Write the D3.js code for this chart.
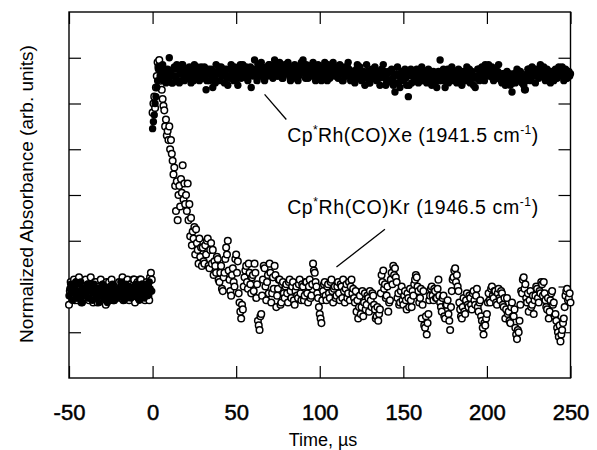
<!DOCTYPE html>
<html>
<head>
<meta charset="utf-8">
<script src="https://cdn.jsdelivr.net/npm/d3@7"></script>
<style>
body { margin: 0; background: #fff; }
svg text { font-family: "Liberation Sans", Arial, sans-serif; fill: #000; }
</style>
</head>
<body>
<div id="absorbance_plot"></div>
<script>
// sampling every 0.5 us; values are absorbance x 100 (arb. units)
var tFirst = -50, tStep = 0.5;
var xTicks = [-50, 0, 50, 100, 150, 200, 250];
var yTicks = [-0.2, 0, 0.2, 0.4, 0.6, 0.8, 1.0];

// Cp*Rh(CO)Kr, 1946.5 cm-1 (open circles), t = -50 .. -0.5
var krPre = [
  -8, -2, 2, -4, -5, 1, 3, -6, -1, 2, -6, -3, 4, 0, -3, -7, 1, -1, -5, 2,
  3, -4, -2, 1, -6, -3, 4, -1, 0, -7, -4, 2, 2, -5, -7, 0, -1, -3, 3, -6,
  -5, 0, 1, -3, -8, 2, -2, -5, 2, -1, -4, 3, -1, -6, -6, 0, 0, -4, -3, 1,
  2, -3, -5, 0, 4, -6, 0, 2, -3, -1, 3, -5, -6, 1, 1, -4, -2, 3, 3, -7,
  -4, 1, 2, -5, -1, 3, 3, -2, -5, 0, 0, -6, -3, 2, 1, -4, -6, 4, 6, 3
];
// t = 0 .. 250
var krPost = [
  76, 80, 83, 78, 87, 92, 98, 96, 99, 90, 96, 86, 82, 79, 77, 70, 73, 66, 68, 64,
  70, 60, 64, 58, 55, 49, 52, 44, 33, 46, 29, 40, 44, 35, 47, 41, 53, 38, 45, 36,
  40, 33, 45, 29, 36, 22, 30, 18, 24, 21, 26, 14, 25, 19, 16, 10, 21, 13, 17, 9,
  17, 11, 10, 18, 14, 20, 21, 9, 8, 16, 19, 10, 16, 5, 11, 9, 6, 13, 12, 3,
  2, 6, 9, -1, -2, 4, 6, 12, 17, 14, 20, 7, 3, -2, -4, 5, 8, 2, 0, 12,
  14, 6, 11, -3, -7, -11, -14, -8, -10, 0, 4, 7, 9, 2, -1, 10, 6, 1, -3, 4,
  5, -2, 10, 6, -5, 1, -15, -17, -19, -13, -12, -4, 3, 9, 8, 0, -6, 2, 5, -3,
  10, 6, -7, -3, 4, -1, 9, 5, -9, -4, -1, 3, 3, -8, -7, 1, 2, -3, -5, 0,
  1, -3, -7, 2, 3, -2, -5, 0, 2, -6, -8, -2, 0, -4, -5, 1, 3, -3, -6, 1,
  0, -6, -4, 2, 2, -3, -7, 0, 3, -5, -4, 1, 10, 7, 6, 2, 0, -3, -5, -9,
  -12, -14, -16, -6, -2, 1, 2, -4, -6, 0, 1, -3, -5, 2, 3, -2, -7, -1, 0, -5,
  -4, 0, 2, -3, -6, 1, 0, -5, 3, -2, -7, -1, 1, -5, -3, 2, -6, 0, 3, -3,
  -1, -5, -7, -2, -11, -6, -14, -9, -4, -12, -9, -2, -13, -7, -3, -10, -8, -4, -5, -11,
  -2, -6, -9, -3, -4, -8, -10, -14, -13, -9, -15, -12, -10, -3, 5, 2, 7, -1, 1, -5,
  -4, 0, -11, -7, -6, 3, 6, 1, 9, 5, 8, 4, 2, -5, -3, -8, -7, -2, 0, -6,
  -8, -4, -2, -6, -10, -3, -5, -9, -1, -6, -9, -2, -4, 1, 3, 5, 4, 0, -2, -7,
  -5, -1, -14, -8, -2, -17, -18, -13, -21, -16, -12, -6, -4, -1, 0, -4, -6, -1, -2, -5,
  -5, -1, 3, -4, -7, -9, -11, -5, -4, -13, -14, -8, -8, -6, -12, -15, -19, -9, -2, 3,
  4, 7, 8, 2, 5, 0, -2, -7, -10, -13, -14, -9, -5, -11, -12, -6, -3, -8, -9, -4,
  -5, -8, -10, -3, -2, -6, -8, -4, -1, -9, -11, -7, -6, -13, -15, -18, -21, -16, -17, -14,
  -12, -7, -3, -6, -7, -1, 0, -4, -5, -2, -2, -7, -8, -3, -1, -5, -6, -2, -3, -8,
  -9, -5, -14, -10, -5, -12, -11, -15, -16, -9, -7, -13, -13, -10, -18, -21, -23, -19, -20, -15,
  -8, -2, -3, 3, 4, -1, 1, -5, -7, -3, -11, -6, -2, -9, -8, -4, -12, -6, -4, 0,
  -1, -5, -7, -2, -3, 2, 1, -4, 2, -3, -6, -9, -10, -5, -14, -11, -6, -3, -2, -8,
  -7, -13, -12, -15, -18, -20, -22, -17, -24, -21, -19, -16, -14, -9, -4, -2, -1, -6, -5, -3, -7
];

// Cp*Rh(CO)Xe, 1941.5 cm-1 (filled dots), t = -50 .. -0.5
var xePre = [
  -4, -1, 1, -3, -6, -2, -1, 0, 2, -5, -5, -3, -2, 1, 2, -4, -7, -2, -1, -4,
  -4, -1, 1, -5, -5, -2, -2, 0, -6, -3, 1, -1, -3, -5, -1, -2, -7, -4, -2, 0,
  1, -3, -5, -1, -2, -4, -7, -2, -1, 0, -4, -6, 1, -2, -6, -3, -2, -1, -5, -3,
  -1, -4, 2, -2, -4, 0, -6, -3, 1, -5, -2, -1, 0, -4, -5, -2, -1, -3, -4, 0,
  1, -3, -4, -1, -6, -2, -2, 1, 1, -4, -5, -2, -1, -3, -4, 0, 2, -1, -2, -2
];
// t = 0 .. 250
var xePost = [
  69, 72, 75, 80, 83, 87, 90, 95, 96, 92, 91, 94, 97, 90, 92, 95, 89, 93, 95, 91,
  100, 94, 92, 89, 89, 95, 96, 92, 91, 97, 95, 90, 89, 93, 94, 97, 97, 92, 90, 94,
  95, 91, 91, 94, 96, 92, 89, 95, 94, 90, 97, 93, 91, 96, 95, 92, 90, 94, 96, 92,
  91, 94, 96, 92, 86, 90, 94, 95, 90, 93, 95, 92, 87, 94, 91, 89, 97, 93, 93, 96,
  90, 94, 96, 92, 92, 95, 89, 93, 95, 91, 88, 92, 91, 95, 97, 93, 92, 90, 96, 94,
  90, 94, 88, 92, 95, 97, 91, 93, 97, 94, 92, 95, 96, 91, 90, 93, 95, 96, 87, 93,
  92, 95, 99, 94, 93, 90, 97, 95, 92, 96, 98, 94, 93, 91, 90, 95, 96, 93, 92, 97,
  97, 94, 93, 96, 91, 95, 99, 97, 94, 92, 92, 96, 98, 95, 93, 91, 91, 95, 97, 94,
  93, 96, 98, 94, 92, 90, 96, 95, 91, 94, 97, 93, 93, 96, 90, 92, 96, 94, 98, 95,
  99, 96, 93, 91, 97, 95, 91, 94, 96, 93, 92, 97, 98, 95, 93, 90, 91, 94, 97, 95,
  93, 96, 90, 92, 96, 94, 98, 95, 92, 90, 97, 94, 91, 93, 95, 97, 98, 94, 92, 95,
  96, 93, 91, 94, 97, 95, 93, 90, 90, 94, 96, 92, 92, 96, 98, 95, 93, 90, 91, 94,
  94, 91, 89, 93, 95, 97, 91, 94, 96, 92, 90, 93, 94, 91, 88, 92, 97, 94, 91, 89,
  89, 93, 95, 91, 91, 94, 96, 92, 90, 93, 94, 91, 88, 92, 95, 93, 97, 94, 91, 88,
  89, 93, 94, 90, 90, 94, 95, 91, 88, 92, 85, 89, 93, 96, 89, 92, 87, 90, 94, 91,
  90, 93, 95, 91, 88, 92, 83, 88, 93, 95, 89, 92, 94, 90, 90, 94, 95, 92, 89, 93,
  93, 90, 96, 92, 90, 94, 94, 91, 89, 93, 95, 91, 91, 94, 88, 92, 94, 90, 90, 93,
  87, 91, 94, 90, 99, 93, 90, 94, 95, 91, 87, 90, 93, 95, 89, 92, 94, 91, 96, 92,
  90, 94, 94, 91, 89, 93, 95, 91, 91, 94, 88, 92, 94, 90, 90, 93, 96, 92, 91, 95,
  89, 93, 94, 91, 88, 92, 87, 91, 92, 95, 95, 90, 91, 94, 96, 93, 92, 90, 97, 94,
  93, 96, 97, 92, 92, 95, 96, 91, 90, 93, 95, 92, 91, 94, 97, 93, 92, 90, 89, 93,
  93, 90, 88, 92, 94, 91, 90, 93, 88, 91, 85, 89, 93, 90, 89, 93, 95, 91, 90, 94,
  94, 91, 89, 92, 88, 86, 86, 90, 93, 95, 95, 92, 90, 93, 96, 92, 92, 95, 89, 93,
  95, 92, 91, 94, 97, 93, 92, 95, 96, 92, 90, 93, 95, 91, 91, 94, 89, 92, 94, 91,
  90, 94, 95, 92, 91, 94, 96, 93, 92, 95, 96, 92, 90, 93, 95, 91, 91, 94, 94, 92, 93
];

// annotation text + leader line, in data units
var labels = [
  {species: "Rh(CO)Xe", wavenumber: "1941.5", tx: 80.5, ty: 0.632, line: [[67, 0.84], [80, 0.73]]},
  {species: "Rh(CO)Kr", wavenumber: "1946.5", tx: 80.5, ty: 0.318, line: [[110, 0.085], [139, 0.25]]}
];

var width = 597, height = 450;
var frame = {left: 69, right: 570.5, top: 12, bottom: 378};

var svg = d3.select("#absorbance_plot").append("svg")
  .attr("width", width)
  .attr("height", height);

var x = d3.scaleLinear().domain([-50, 250]).range([frame.left, frame.right]);
var y = d3.scaleLinear().domain([-0.4, 1.2]).range([frame.bottom, frame.top]);

function toPoints(pre, post){
  var a = pre.map(function(v, i){ return {t: tFirst + i * tStep, v: v / 100}; });
  var b = post.map(function(v, i){ return {t: i * tStep, v: v / 100}; });
  return a.concat(b);
}
var krData = toPoints(krPre, krPost);
var xeData = toPoints(xePre, xePost);

// axes: ticks point inward on all four sides, labels only on the bottom
var tick = 12;
svg.append("g")
  .attr("transform", "translate(0," + frame.bottom + ")")
  .call(d3.axisBottom(x).tickValues(xTicks).tickSize(-tick).tickSizeOuter(0).tickPadding(26).tickFormat(function(d){ return String(d); }))
  .call(function(g){
    g.select(".domain").remove();
    g.selectAll("text")
      .attr("font-size", 22)
      .attr("font-family", null)
      .attr("stroke", "#000")
      .attr("stroke-width", 0.5);
  });
svg.append("g")
  .attr("transform", "translate(0," + frame.top + ")")
  .call(d3.axisTop(x).tickValues(xTicks).tickSize(-tick).tickSizeOuter(0).tickFormat(""))
  .call(function(g){ g.select(".domain").remove(); });
svg.append("g")
  .attr("transform", "translate(" + frame.left + ",0)")
  .call(d3.axisLeft(y).tickValues(yTicks).tickSize(-tick).tickSizeOuter(0).tickFormat(""))
  .call(function(g){ g.select(".domain").remove(); });
svg.append("g")
  .attr("transform", "translate(" + frame.right + ",0)")
  .call(d3.axisRight(y).tickValues(yTicks).tickSize(-tick).tickSizeOuter(0).tickFormat(""))
  .call(function(g){ g.select(".domain").remove(); });

svg.selectAll(".tick line").attr("stroke", "#000").attr("stroke-width", 1.2);

svg.append("rect")
  .attr("x", frame.left)
  .attr("y", frame.top)
  .attr("width", frame.right - frame.left)
  .attr("height", frame.bottom - frame.top)
  .attr("fill", "none")
  .attr("stroke", "#000")
  .attr("stroke-width", 1.4);

// Kr first, Xe dots on top
svg.append("g").selectAll("circle")
  .data(krData)
  .enter().append("circle")
  .attr("cx", function(d){ return x(d.t); })
  .attr("cy", function(d){ return y(d.v); })
  .attr("r", 3.3)
  .attr("fill", "#fff")
  .attr("stroke", "#000")
  .attr("stroke-width", 1.5);

svg.append("g").selectAll("circle")
  .data(xeData)
  .enter().append("circle")
  .attr("cx", function(d){ return x(d.t); })
  .attr("cy", function(d){ return y(d.v); })
  .attr("r", 3.7)
  .attr("fill", "#000");

// annotations
var line = d3.line().x(function(d){ return x(d[0]); }).y(function(d){ return y(d[1]); });
labels.forEach(function(l){
  svg.append("path")
    .attr("d", line(l.line))
    .attr("stroke", "#000")
    .attr("stroke-width", 1.3)
    .attr("fill", "none");
  var t = svg.append("text")
    .attr("x", x(l.tx))
    .attr("y", y(l.ty))
    .attr("font-size", 19.5)
    .attr("textLength", 251)
    .attr("lengthAdjust", "spacing");
  t.append("tspan").text("Cp");
  t.append("tspan").attr("dy", -8).attr("font-size", 12).text("*");
  t.append("tspan").attr("dy", 8).text(l.species + " (" + l.wavenumber + " cm");
  t.append("tspan").attr("dy", -8).attr("font-size", 12).text("-1");
  t.append("tspan").attr("dy", 8).text(")");
});

svg.append("text")
  .attr("x", 323)
  .attr("y", 446)
  .attr("text-anchor", "middle")
  .attr("font-size", 18)
  .text("Time, \u00b5s");

svg.append("text")
  .attr("transform", "translate(33," + ((frame.top + frame.bottom) / 2 - 1) + ") rotate(-90)")
  .attr("text-anchor", "middle")
  .attr("font-size", 19)
  .text("Normalized Absorbance (arb. units)");
</script>
</body>
</html>
